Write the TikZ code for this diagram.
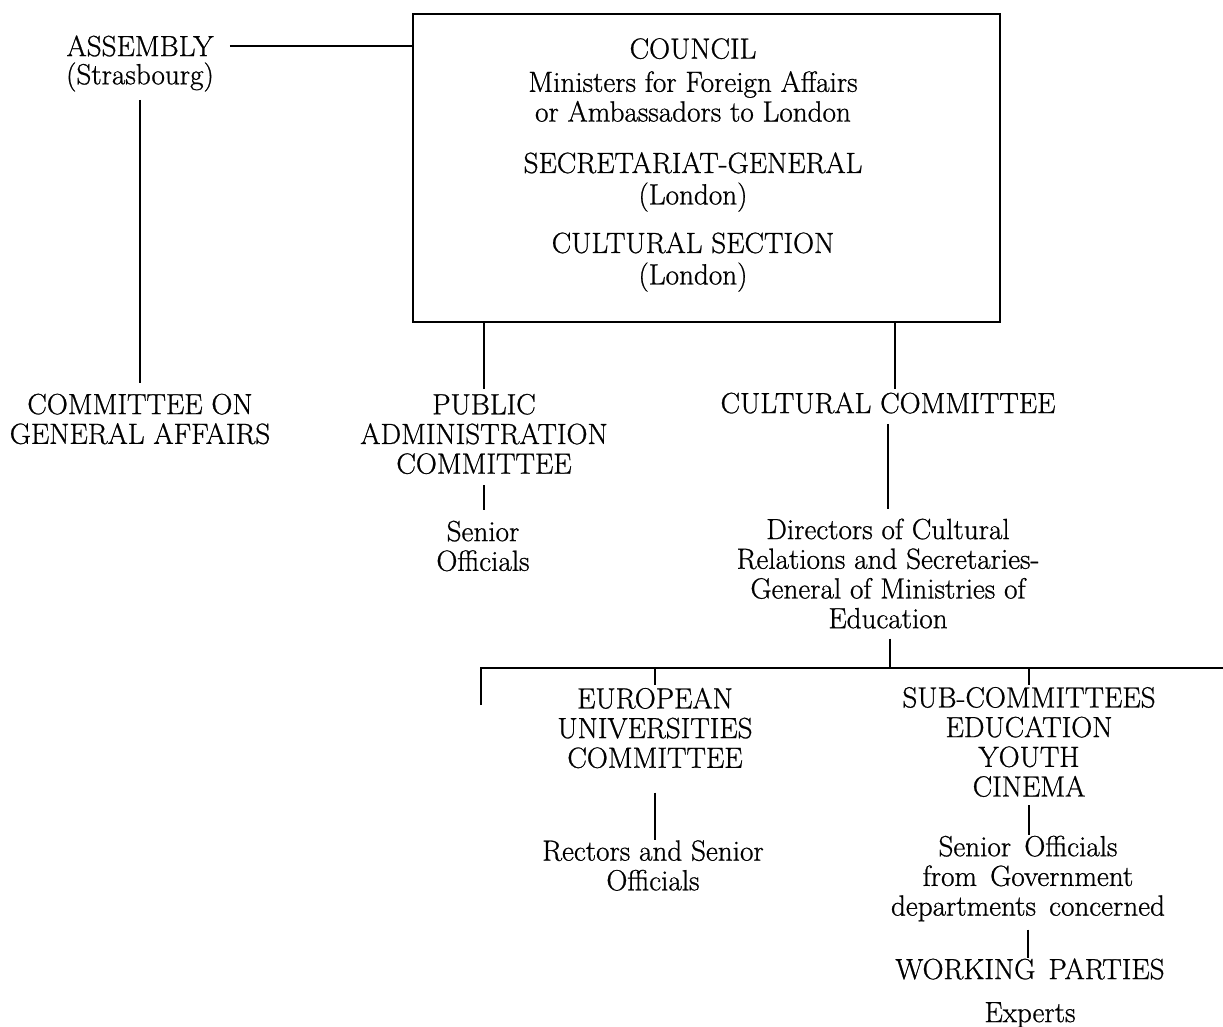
\documentclass[tikz,border=0pt]{standalone}
\usepackage{fontspec}
\setmainfont{Latin Modern Roman}[FakeBold=0.8]
\usepackage{tikz}
\usetikzlibrary{positioning, calc}

\begin{document}
\begin{tikzpicture}[x=0.02cm, y=-0.02cm,
    lbl/.style={align=center, inner sep=0pt, font=\fontsize{16.6}{16.9}\selectfont},
    link/.style={line width=0.8pt}]
                    % Fix the page to the size of the chart
                    \useasboundingbox (0,0) rectangle (1223,1027);

                    % Assembly and its committee
                    \node[lbl] (assembly) at (140,46) {ASSEMBLY};
                    \node[lbl] (strasbourg) at (140,77) {(Strasbourg)};
                    \node[lbl] (genaff) at (140,419) {COMMITTEE ON\\GENERAL AFFAIRS};

                    % Council box with its three parts
                    \node[draw, line width=0.8pt, minimum width=11.74cm, minimum height=6.16cm, inner sep=0pt] (council) at (706.5,168) {};
                    \node[lbl] (councilhead) at (693,80) {COUNCIL\\[2pt]Ministers for Foreign Affairs\\or Ambassadors to London};
                    \node[lbl] (secretariat) at (693,182) {SECRETARIAT-GENERAL\\[1pt](London)};
                    \node[lbl] (cultsection) at (693,262) {CULTURAL SECTION\\[1pt](London)};

                    % Committees below the council
                    \node[lbl] (pubadm) at (484,434) {PUBLIC\\ADMINISTRATION\\COMMITTEE};
                    \node[lbl] (seniorpa) at (483,546) {Senior\\Officials};
                    \node[lbl] (cultcom) at (888,403) {CULTURAL COMMITTEE};
                    \node[lbl] (directors) at (888,573.5) {Directors of Cultural\\Relations and Secretaries-\\General of Ministries of\\Education};

                    % Bar that splits the cultural committee
                    \coordinate (bar) at (890,668);
                    \coordinate (barleft) at (481,668);
                    \coordinate (barright) at (1223,668);

                    \node[lbl] (euruni) at (655,728) {EUROPEAN\\UNIVERSITIES\\COMMITTEE};
                    \node[lbl] (rectors) at (653,865.5) {Rectors and Senior\\Officials};
                    \node[lbl] (subcom) at (1029,742) {SUB-COMMITTEES\\EDUCATION\\YOUTH\\CINEMA};
                    \node[lbl] (seniorsub) at (1028,878.5) {Senior\hspace{0.15em} Officials\\from\hspace{0.15em} Government\\departments\hspace{0.15em} concerned};
                    \node[lbl] (working) at (1030,969) {WORKING\hspace{0.15em} PARTIES};
                    \node[lbl] (experts) at (1030,1015) {Experts};

                    % Connecting lines
                    \draw[link] ([xshift=0.32cm]assembly.east) -- (assembly -| council.west);
                    \draw[link] ([yshift=-0.16cm]strasbourg.south) -- ([yshift=0.2cm]genaff.north);
                    \draw[link] (council.south -| pubadm.north) -- ([yshift=0.1cm]pubadm.north);
                    \draw[link] ([yshift=-0.22cm]pubadm.south) -- ([yshift=0.2cm]pubadm.south |- seniorpa.north);
                    \draw[link] ([xshift=0.14cm]council.south -| cultcom.north) -- ([xshift=0.14cm,yshift=0.06cm]cultcom.north);
                    \draw[link] ([yshift=-0.2cm]cultcom.south) -- ([yshift=0.18cm]directors.north);
                    \draw[link] ([yshift=-0.2cm]directors.south -| bar) -- (bar);
                    \draw[link] ([yshift=-0.74cm]barleft) -- (barleft) -- (barright);
                    \draw[link] (bar -| euruni.north) -- ([yshift=0.04cm]euruni.north);
                    \draw[link] (bar -| subcom.north) -- ([yshift=0.04cm]subcom.north);
                    \draw[link] ([yshift=-0.48cm]euruni.south) -- (euruni.south |- rectors.north);
                    \draw[link] ([yshift=-0.16cm]subcom.south) -- (subcom.south |- seniorsub.north);
                    \draw[link] ([yshift=-0.16cm]seniorsub.south) -- (seniorsub.south |- working.north);
                \end{tikzpicture}
\end{document}
